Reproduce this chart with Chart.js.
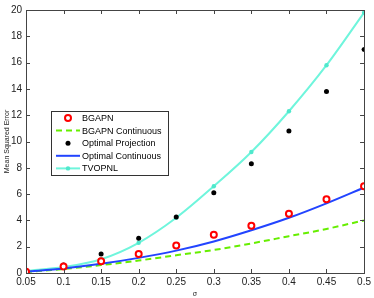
<!DOCTYPE html>
<html>
<head>
<meta charset="utf-8">
<script src="https://cdn.jsdelivr.net/npm/chart.js@4/dist/chart.umd.min.js"></script>
<style>
    html, body { margin: 0; padding: 0; background: #fff; }
    #wrap { width: 374px; height: 298px; }
</style>
</head>
<body>
<div id="wrap"><canvas id="grafico"></canvas></div>
<script>
    const sigma = [0.05, 0.1, 0.15, 0.2, 0.25, 0.3, 0.35, 0.4, 0.45, 0.5];
    const yTicks = [0, 2, 4, 6, 8, 10, 12, 14, 16, 18, 20];

    const bgapn = [0.1, 0.5, 0.9, 1.45, 2.1, 2.9, 3.6, 4.5, 5.6, 6.6];
    const bgapnCont = [0.07, 0.3, 0.6, 0.95, 1.35, 1.75, 2.25, 2.8, 3.35, 4.0];
    const optProj = [0.1, 0.6, 1.45, 2.65, 4.25, 6.1, 8.3, 10.8, 13.8, 17.0];
    const optCont = [0.1, 0.35, 0.7, 1.15, 1.7, 2.4, 3.25, 4.2, 5.3, 6.5];
    const tvopnl = [0.15, 0.45, 1.05, 2.3, 4.2, 6.6, 9.2, 12.3, 15.8, 19.8];

    function pares(valores) {
        return sigma.map((s, i) => ({ x: s, y: valores[i] }));
    }

    const moldura = {
        id: 'moldura',
        afterDraw(chart) {
            const ctx = chart.ctx;
            const a = chart.chartArea;
            const sx = chart.scales.x, sy = chart.scales.y;
            ctx.save();
            ctx.strokeStyle = '#444';
            ctx.lineWidth = 1;
            ctx.beginPath();
            sigma.forEach(v => {
                const px = Math.round(sx.getPixelForValue(v)) + 0.5;
                ctx.moveTo(px, a.bottom); ctx.lineTo(px, a.bottom - 4);
                ctx.moveTo(px, a.top); ctx.lineTo(px, a.top + 4);
            });
            yTicks.forEach(v => {
                const py = Math.round(sy.getPixelForValue(v)) + 0.5;
                ctx.moveTo(a.left, py); ctx.lineTo(a.left + 4, py);
                ctx.moveTo(a.right, py); ctx.lineTo(a.right - 4, py);
            });
            ctx.stroke();
            ctx.strokeRect(Math.round(a.left) + 0.5, Math.round(a.top) + 0.5,
                Math.round(a.right - a.left), Math.round(a.bottom - a.top));

            // legenda dentro da area
            const lx = a.left + 25, ly = a.top + 101;
            const lw = 117, lh = 64;
            ctx.fillStyle = '#fff';
            ctx.fillRect(lx, ly, lw, lh);
            ctx.strokeStyle = '#333';
            ctx.strokeRect(lx + 0.5, ly + 0.5, lw, lh);
            ctx.font = '9px "Liberation Sans", Arial, sans-serif';
            ctx.textBaseline = 'middle';
            chart.data.datasets.forEach((ds, i) => {
                const cy = ly + 7 + i * 12.6;
                const x0 = lx + 5, x1 = lx + 29, xm = (x0 + x1) / 2;
                if (ds.showLine !== false) {
                    ctx.save();
                    ctx.strokeStyle = ds.borderColor;
                    ctx.lineWidth = ds.borderWidth;
                    ctx.setLineDash(ds.borderDash || []);
                    ctx.beginPath();
                    ctx.moveTo(x0, cy); ctx.lineTo(x1, cy);
                    ctx.stroke();
                    ctx.restore();
                }
                if (ds.pointRadius > 0) {
                    ctx.beginPath();
                    ctx.arc(xm, cy, ds.pointRadius, 0, Math.PI * 2);
                    ctx.fillStyle = ds.pointBackgroundColor;
                    ctx.fill();
                    if (ds.pointBorderWidth > 0) {
                        ctx.lineWidth = ds.pointBorderWidth;
                        ctx.strokeStyle = ds.pointBorderColor;
                        ctx.stroke();
                    }
                }
                ctx.fillStyle = '#000';
                ctx.textAlign = 'left';
                ctx.fillText(ds.label, lx + 31, cy + 0.5);
            });
            ctx.restore();
        }
    };

    new Chart(document.getElementById('grafico').getContext('2d'), {
        type: 'line',
        data: {
            datasets: [
                {
                    label: 'BGAPN',
                    data: pares(bgapn),
                    showLine: false,
                    borderColor: '#ff0000',
                    borderWidth: 0,
                    pointRadius: 3,
                    pointBorderWidth: 2,
                    pointBorderColor: '#ff0000',
                    pointBackgroundColor: '#ffffff',
                    order: 0
                },
                {
                    label: 'BGAPN Continuous',
                    data: pares(bgapnCont),
                    borderColor: '#66ee00',
                    borderWidth: 2,
                    borderDash: [6, 4],
                    pointRadius: 0,
                    cubicInterpolationMode: 'monotone',
                    order: 3
                },
                {
                    label: 'Optimal Projection',
                    data: pares(optProj),
                    showLine: false,
                    borderColor: '#000000',
                    borderWidth: 0,
                    pointRadius: 2.5,
                    pointBorderWidth: 0,
                    pointBorderColor: '#000000',
                    pointBackgroundColor: '#000000',
                    order: 1
                },
                {
                    label: 'Optimal Continuous',
                    data: pares(optCont),
                    borderColor: '#2244ff',
                    borderWidth: 2,
                    pointRadius: 0,
                    cubicInterpolationMode: 'monotone',
                    order: 2
                },
                {
                    label: 'TVOPNL',
                    data: pares(tvopnl),
                    borderColor: '#6ff5dc',
                    borderWidth: 2,
                    pointRadius: 2.2,
                    pointBorderWidth: 0,
                    pointBorderColor: '#4fe8cc',
                    pointBackgroundColor: '#4fe8cc',
                    cubicInterpolationMode: 'monotone',
                    order: 4
                }
            ]
        },
        options: {
            responsive: true,
            maintainAspectRatio: false,
            animation: false,
            layout: { padding: { top: 9, right: 9, left: 0, bottom: 0 } },
            plugins: {
                legend: { display: false },
                tooltip: { enabled: false }
            },
            scales: {
                x: {
                    type: 'linear',
                    min: 0.05,
                    max: 0.5,
                    afterBuildTicks: s => { s.ticks = sigma.map(v => ({ value: v })); },
                    afterFit: s => { s.height = 25; },
                    grid: { display: false, drawTicks: false },
                    border: { display: false },
                    ticks: {
                        padding: 3,
                        maxRotation: 0,
                        autoSkip: false,
                        color: '#222',
                        font: { family: '"Liberation Sans", Arial, sans-serif', size: 10 },
                        callback: v => String(+(+v).toFixed(2))
                    },
                    title: {
                        display: true,
                        text: 'σ',
                        color: '#222',
                        padding: { top: 0, bottom: 0 },
                        font: { family: '"Liberation Sans", Arial, sans-serif', size: 7 }
                    }
                },
                y: {
                    min: 0,
                    max: 20,
                    afterBuildTicks: s => { s.ticks = yTicks.map(v => ({ value: v })); },
                    afterFit: s => { s.width = 26; },
                    grid: { display: false, drawTicks: false },
                    border: { display: false },
                    ticks: {
                        padding: 4,
                        color: '#222',
                        font: { family: '"Liberation Sans", Arial, sans-serif', size: 10 }
                    },
                    title: {
                        display: true,
                        text: 'Mean Squared Error',
                        color: '#222',
                        padding: { top: 3, bottom: 0 },
                        font: { family: '"Liberation Sans", Arial, sans-serif', size: 7 }
                    }
                }
            }
        },
        plugins: [moldura]
    });
</script>
</body>
</html>
